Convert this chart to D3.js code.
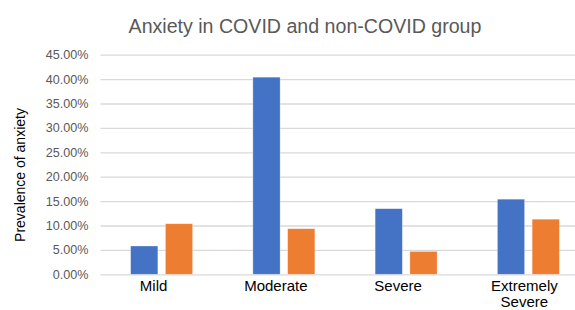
<!DOCTYPE html>
<html>
<head>
<meta charset="utf-8">
<script src="https://cdn.jsdelivr.net/npm/d3@7"></script>
<style>
  html, body { margin: 0; padding: 0; background: #fff; overflow: hidden; }
  svg { display: block; font-family: "Liberation Sans", Arial, sans-serif; }
</style>
</head>
<body>
<figure id="bar" style="margin:0"></figure>
<script>
// chart data
const categories = ["Mild", "Moderate", "Severe", "Extremely Severe"];
const seriesNames = ["COVID", "non-COVID"];
const covidValues = [0.058, 0.404, 0.1345, 0.154];
const nonCovidValues = [0.1037, 0.0935, 0.047, 0.113];
const yTicks = [0, 0.05, 0.10, 0.15, 0.20, 0.25, 0.30, 0.35, 0.40, 0.45];
const colors = ["#4472C4", "#ED7D31"];

const width = 575, height = 310;
const plotLeft = 100.5, plotRight = 589.5, plotTop = 54.7, plotBottom = 274.3;

const svg = d3.select("figure#bar")
  .append("svg")
  .attr("width", width)
  .attr("height", height);

const data = categories.map((c, i) => ({ label: c, values: [covidValues[i], nonCovidValues[i]] }));

// x scale for categories
const x = d3.scaleBand()
  .domain(categories)
  .range([plotLeft, plotRight])
  .paddingInner(0)
  .paddingOuter(0);

// sub scale for the two series
const xs = d3.scaleBand()
  .domain(seriesNames)
  .range([0, x.bandwidth()])
  .paddingInner(0.215)
  .paddingOuter(0.866);

const y = d3.scaleLinear()
  .domain([0, 0.45])
  .range([plotBottom, plotTop]);

// gridlines + tick labels
const yAxis = svg.append("g")
  .attr("transform", "translate(" + plotLeft + ",0)")
  .call(d3.axisLeft(y)
    .tickValues(yTicks)
    .tickFormat(d3.format(".2%"))
    .tickSize(-(plotRight - plotLeft))
    .tickPadding(12));
yAxis.select(".domain").remove();
yAxis.selectAll(".tick line")
  .attr("stroke", "#d9d9d9")
  .attr("stroke-width", 1.3);
yAxis.selectAll(".tick text")
  .attr("fill", "#595959")
  .style("font-size", "12.6px");

// bars
const groups = svg.selectAll("g.cat")
  .data(data)
  .enter()
  .append("g")
  .attr("class", "cat")
  .attr("transform", d => "translate(" + x(d.label) + ",0)");

groups.selectAll("rect")
  .data(d => d.values.map((v, i) => ({ key: seriesNames[i], value: v, i: i })))
  .enter()
  .append("rect")
  .attr("x", d => xs(d.key))
  .attr("y", d => y(d.value))
  .attr("width", xs.bandwidth())
  .attr("height", d => y(0) - y(d.value))
  .attr("fill", d => colors[d.i])
  .attr("stroke", "#ffffff")
  .attr("stroke-opacity", 0.5)
  .attr("stroke-width", 0.7);

// category labels (wrapped on space for the last one)
const labelX = d => x(d) + x.bandwidth() / 2 - (d === "Extremely Severe" ? 4 : 8);

const xLabels = svg.selectAll("text.xlab")
  .data(categories)
  .enter()
  .append("text")
  .attr("class", "xlab")
  .attr("x", labelX)
  .attr("y", 291)
  .attr("text-anchor", "middle")
  .attr("fill", "#000")
  .style("font-size", "15px");

xLabels.each(function (d) {
  const words = d === "Extremely Severe" ? ["Extremely", "Severe"] : [d];
  const t = d3.select(this);
  words.forEach((w, i) => {
    t.append("tspan")
      .attr("x", labelX(d))
      .attr("dy", i === 0 ? 0 : 16)
      .text(w);
  });
});

// title
svg.append("text")
  .attr("x", 305)
  .attr("y", 33)
  .attr("text-anchor", "middle")
  .attr("fill", "#595959")
  .style("font-size", "19.6px")
  .text("Anxiety in COVID and non-COVID group");

// y axis title
svg.append("text")
  .attr("transform", "translate(25," + 175 + ") rotate(-90)")
  .attr("text-anchor", "middle")
  .attr("fill", "#000")
  .style("font-size", "14px")
  .text("Prevalence of anxiety");
</script>
</body>
</html>
